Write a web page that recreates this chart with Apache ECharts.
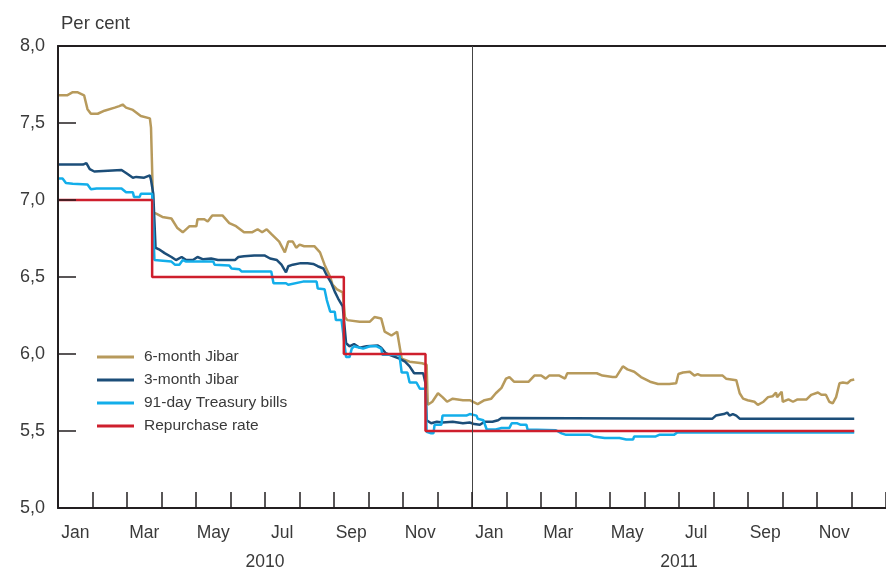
<!DOCTYPE html>
<html>
<head>
<meta charset="utf-8">
<script src="https://cdn.jsdelivr.net/npm/echarts@6/dist/echarts.min.js"></script>
<style>html,body{margin:0;padding:0;background:#fff}#c{width:886px;height:569px}</style>
</head>
<body>
<div id="c"></div>
<script>
const monthLabels = ['Jan','Feb','Mar','Apr','May','Jun','Jul','Aug','Sep','Oct','Nov','Dec',
                     'Jan','Feb','Mar','Apr','May','Jun','Jul','Aug','Sep','Oct','Nov','Dec'];
const shownMonths = ['Jan','Mar','May','Jul','Sep','Nov'];
const yearLabels = ['2010','2011'];
const yTicks = [5.0, 5.5, 6.0, 6.5, 7.0, 7.5, 8.0];

const jibar6 = [
['2010-01-01',7.68],['2010-01-09',7.68],['2010-01-14',7.70],['2010-01-18',7.70],['2010-01-24',7.68],
['2010-01-27',7.59],['2010-01-30',7.56],['2010-02-05',7.56],['2010-02-11',7.58],['2010-02-20',7.60],
['2010-02-24',7.61],['2010-02-27',7.62],['2010-03-02',7.60],['2010-03-08',7.585],['2010-03-15',7.545],
['2010-03-23',7.53],['2010-03-24',7.47],['2010-03-26',6.92],['2010-03-29',6.91],['2010-04-03',6.89],
['2010-04-11',6.88],['2010-04-16',6.82],['2010-04-21',6.79],['2010-04-27',6.83],['2010-05-03',6.83],
['2010-05-04',6.875],['2010-05-10',6.875],['2010-05-13',6.86],['2010-05-17',6.90],['2010-05-26',6.90],
['2010-06-01',6.85],['2010-06-07',6.83],['2010-06-14',6.79],['2010-06-21',6.79],['2010-06-26',6.81],
['2010-06-30',6.79],['2010-07-04',6.81],['2010-07-08',6.78],['2010-07-15',6.73],['2010-07-20',6.66],
['2010-07-23',6.73],['2010-07-27',6.73],['2010-07-30',6.69],['2010-08-02',6.71],['2010-08-06',6.70],
['2010-08-15',6.70],['2010-08-20',6.66],['2010-08-24',6.58],['2010-08-29',6.50],['2010-08-31',6.45],
['2010-09-04',6.42],['2010-09-09',6.40],['2010-09-11',6.24],['2010-09-13',6.22],['2010-09-24',6.21],
['2010-10-03',6.21],['2010-10-07',6.24],['2010-10-13',6.23],['2010-10-16',6.145],['2010-10-22',6.12],
['2010-10-27',6.145],['2010-10-31',5.97],['2010-11-07',5.95],['2010-11-18',5.94],['2010-11-22',5.93],
['2010-11-23',5.67],['2010-11-27',5.69],['2010-12-02',5.745],['2010-12-06',5.72],['2010-12-10',5.69],
['2010-12-15',5.71],['2010-12-24',5.70],['2010-12-30',5.70],['2011-01-06',5.675],['2011-01-12',5.70],
['2011-01-18',5.71],['2011-01-22',5.745],['2011-01-27',5.78],['2011-01-31',5.84],['2011-02-03',5.85],
['2011-02-07',5.82],['2011-02-20',5.82],['2011-02-25',5.86],['2011-03-03',5.86],['2011-03-07',5.84],
['2011-03-10',5.86],['2011-03-19',5.86],['2011-03-24',5.84],['2011-03-26',5.875],['2011-04-21',5.875],
['2011-04-26',5.86],['2011-05-05',5.85],['2011-05-08',5.85],['2011-05-14',5.92],['2011-05-18',5.90],
['2011-05-24',5.885],['2011-05-30',5.85],['2011-06-07',5.82],['2011-06-14',5.805],['2011-06-24',5.805],
['2011-06-30',5.81],['2011-07-02',5.87],['2011-07-06',5.88],['2011-07-12',5.885],['2011-07-16',5.86],
['2011-07-19',5.87],['2011-07-22',5.86],['2011-08-10',5.86],['2011-08-13',5.84],['2011-08-22',5.83],
['2011-08-25',5.745],['2011-08-28',5.71],['2011-09-01',5.70],['2011-09-07',5.69],['2011-09-10',5.67],
['2011-09-15',5.69],['2011-09-19',5.72],['2011-09-23',5.725],['2011-09-26',5.75],['2011-09-27',5.72],
['2011-10-01',5.755],['2011-10-02',5.69],['2011-10-07',5.705],['2011-10-11',5.69],['2011-10-15',5.705],
['2011-10-23',5.705],['2011-10-27',5.735],['2011-11-02',5.75],['2011-11-05',5.735],['2011-11-09',5.735],
['2011-11-12',5.69],['2011-11-15',5.68],['2011-11-18',5.72],['2011-11-21',5.81],['2011-11-24',5.815],
['2011-11-28',5.81],['2011-12-01',5.83],['2011-12-04',5.835]
];

const jibar3 = [
['2010-01-01',7.23],['2010-01-23',7.23],['2010-01-26',7.24],['2010-01-29',7.20],['2010-02-02',7.185],
['2010-02-26',7.195],['2010-03-03',7.17],['2010-03-08',7.145],['2010-03-11',7.15],['2010-03-18',7.145],
['2010-03-23',7.16],['2010-03-24',7.13],['2010-03-26',7.04],['2010-03-28',6.69],['2010-03-31',6.68],
['2010-04-05',6.655],['2010-04-11',6.63],['2010-04-15',6.61],['2010-04-20',6.63],['2010-04-24',6.61],
['2010-04-30',6.61],['2010-05-04',6.63],['2010-05-09',6.615],['2010-05-16',6.62],['2010-05-22',6.61],
['2010-06-06',6.61],['2010-06-09',6.63],['2010-06-14',6.635],['2010-06-23',6.64],['2010-07-02',6.64],
['2010-07-07',6.62],['2010-07-13',6.61],['2010-07-17',6.58],['2010-07-21',6.53],['2010-07-23',6.57],
['2010-07-27',6.58],['2010-08-03',6.59],['2010-08-09',6.59],['2010-08-14',6.585],['2010-08-18',6.57],
['2010-08-23',6.555],['2010-08-26',6.51],['2010-08-30',6.46],['2010-09-02',6.405],['2010-09-05',6.36],
['2010-09-09',6.31],['2010-09-12',6.07],['2010-09-15',6.05],['2010-09-19',6.065],['2010-09-24',6.04],
['2010-09-30',6.05],['2010-10-10',6.055],['2010-10-13',6.04],['2010-10-17',6.005],['2010-10-22',5.99],
['2010-10-29',5.97],['2010-11-03',5.95],['2010-11-07',5.92],['2010-11-11',5.875],['2010-11-19',5.875],
['2010-11-21',5.81],['2010-11-22',5.57],['2010-11-26',5.55],['2010-12-01',5.56],['2010-12-06',5.555],
['2010-12-15',5.56],['2010-12-24',5.55],['2010-12-30',5.555],['2011-01-03',5.545],['2011-01-08',5.54],
['2011-01-12',5.56],['2011-01-19',5.56],['2011-01-24',5.57],['2011-01-27',5.585],['2011-08-01',5.58],
['2011-08-04',5.60],['2011-08-11',5.61],['2011-08-14',5.62],['2011-08-16',5.60],['2011-08-19',5.61],
['2011-08-22',5.60],['2011-08-25',5.58],['2011-12-04',5.58]
];

const tbills91 = [
['2010-01-01',7.14],['2010-01-05',7.14],['2010-01-08',7.11],['2010-01-14',7.105],['2010-01-27',7.10],
['2010-01-30',7.07],['2010-02-04',7.075],['2010-02-26',7.075],['2010-03-02',7.05],['2010-03-08',7.05],
['2010-03-09',7.02],['2010-03-14',7.02],['2010-03-15',7.04],['2010-03-25',7.04],['2010-03-27',6.61],
['2010-03-28',6.60],['2010-04-11',6.60],['2010-04-14',6.58],['2010-04-18',6.58],['2010-04-21',6.61],
['2010-04-24',6.60],['2010-05-18',6.60],['2010-05-19',6.58],['2010-06-01',6.575],['2010-06-03',6.555],
['2010-06-10',6.55],['2010-06-12',6.535],['2010-07-08',6.535],['2010-07-10',6.46],['2010-07-21',6.46],
['2010-07-23',6.45],['2010-08-05',6.47],['2010-08-17',6.47],['2010-08-18',6.425],['2010-08-24',6.42],
['2010-08-26',6.35],['2010-08-29',6.275],['2010-09-02',6.275],['2010-09-03',6.22],['2010-09-08',6.22],
['2010-09-09',6.21],['2010-09-12',5.98],['2010-09-15',5.98],['2010-09-17',6.035],['2010-09-19',6.05],
['2010-09-27',6.035],['2010-10-03',6.05],['2010-10-09',6.05],['2010-10-13',6.035],['2010-10-14',5.995],
['2010-10-29',5.995],['2010-10-31',5.88],['2010-11-05',5.88],['2010-11-07',5.815],['2010-11-13',5.815],
['2010-11-16',5.775],['2010-11-21',5.775],['2010-11-22',5.495],['2010-11-26',5.485],['2010-11-28',5.485],
['2010-11-29',5.54],['2010-12-05',5.54],['2010-12-06',5.60],['2010-12-27',5.60],['2010-12-30',5.61],
['2011-01-05',5.60],['2011-01-06',5.58],['2011-01-11',5.57],['2011-01-14',5.51],['2011-01-22',5.51],
['2011-01-27',5.52],['2011-02-03',5.52],['2011-02-05',5.55],['2011-02-10',5.55],['2011-02-13',5.54],
['2011-02-18',5.54],['2011-02-19',5.51],['2011-03-16',5.505],['2011-03-21',5.485],['2011-03-25',5.475],
['2011-04-15',5.475],['2011-04-18',5.465],['2011-04-28',5.455],['2011-05-11',5.455],['2011-05-17',5.445],
['2011-05-23',5.445],['2011-05-24',5.465],['2011-06-12',5.465],['2011-06-15',5.475],['2011-06-28',5.475],
['2011-07-01',5.49],['2011-12-04',5.49]
];

const repoRate = [
['2010-01-01',7.0],['2010-03-25',6.5],['2010-09-10',6.0],['2010-11-21',5.5],['2011-12-04',5.5]
];

const FONT = 'Liberation Sans';
const TXT = '#3a3a3a';
const AX = '#231f20';

const chart = echarts.init(document.getElementById('c'), null, {renderer: 'canvas'});
chart.setOption({
  animation: false,
  backgroundColor: '#fff',
  title: {
    text: 'Per cent', left: 56, top: 9,
    textStyle: {fontFamily: FONT, fontSize: 18.5, fontWeight: 'normal', color: TXT}
  },
  grid: {left: 58, right: 0, top: 46, bottom: 61, containLabel: false, outerBoundsMode: 'none'},
  legend: {
    orient: 'vertical', left: 92, top: 343,
    itemWidth: 37, itemHeight: 3, itemGap: 5, icon: 'rect',
    textStyle: {fontFamily: FONT, fontSize: 15.5, color: TXT, lineHeight: 18, padding: [0,0,0,5]},
    data: ['6-month Jibar','3-month Jibar','91-day Treasury bills','Repurchase rate']
  },
  xAxis: [
    {type: 'time', min: '2010-01-01', max: '2012-01-01', show: false},
    {type: 'category', data: monthLabels, boundaryGap: true, position: 'bottom',
     axisLine: {show: true, lineStyle: {color: AX, width: 2}},
     axisTick: {show: true, inside: true, length: 16, interval: 0, lineStyle: {color: AX, width: 1.5}},
     axisLabel: {interval: 0, margin: 16, fontFamily: FONT, fontSize: 17.5, color: TXT,
                 formatter: v => shownMonths.includes(v) ? v : ''},
     splitLine: {show: false}, z: 10},
    {type: 'category', data: yearLabels, boundaryGap: true, position: 'bottom', offset: 29,
     axisLine: {show: false}, axisTick: {show: false},
     axisLabel: {margin: 16, fontFamily: FONT, fontSize: 17.5, color: TXT}},
    {type: 'value', position: 'top', min: 0, max: 1,
     axisLine: {show: true, onZero: false, lineStyle: {color: AX, width: 2}},
     axisTick: {show: false}, axisLabel: {show: false}, splitLine: {show: false}}
  ],
  yAxis: {
    type: 'value', min: 5, max: 8, interval: 0.5,
    axisLine: {show: true, lineStyle: {color: AX, width: 2}},
    axisTick: {show: true, inside: true, length: 18, lineStyle: {color: AX, width: 1.5}},
    axisLabel: {margin: 13, fontFamily: FONT, fontSize: 18, color: TXT,
                formatter: v => v.toFixed(1).replace('.', ',')},
    splitLine: {show: false},
    z: 10
  },
  series: [
    {name: '6-month Jibar', type: 'line', xAxisIndex: 0, data: jibar6, showSymbol: false, symbol: 'none',
     lineStyle: {color: '#B79A5C', width: 2.5}, itemStyle: {color: '#B79A5C'}},
    {name: '3-month Jibar', type: 'line', xAxisIndex: 0, data: jibar3, showSymbol: false, symbol: 'none',
     lineStyle: {color: '#1C4E79', width: 2.5}, itemStyle: {color: '#1C4E79'}},
    {name: '91-day Treasury bills', type: 'line', xAxisIndex: 0, data: tbills91, showSymbol: false, symbol: 'none',
     lineStyle: {color: '#13AEEA', width: 2.5}, itemStyle: {color: '#13AEEA'}},
    {name: 'Repurchase rate', type: 'line', xAxisIndex: 0, data: repoRate, step: 'end', showSymbol: false, symbol: 'none',
     lineStyle: {color: '#CE1F2D', width: 2.5}, itemStyle: {color: '#CE1F2D'},
     markLine: {silent: true, symbol: ['none','none'], label: {show: false},
                lineStyle: {color: '#444', width: 1, type: 'solid'},
                data: [{xAxis: '2011-01-01'}]}}
  ]
});
</script>
</body>
</html>
